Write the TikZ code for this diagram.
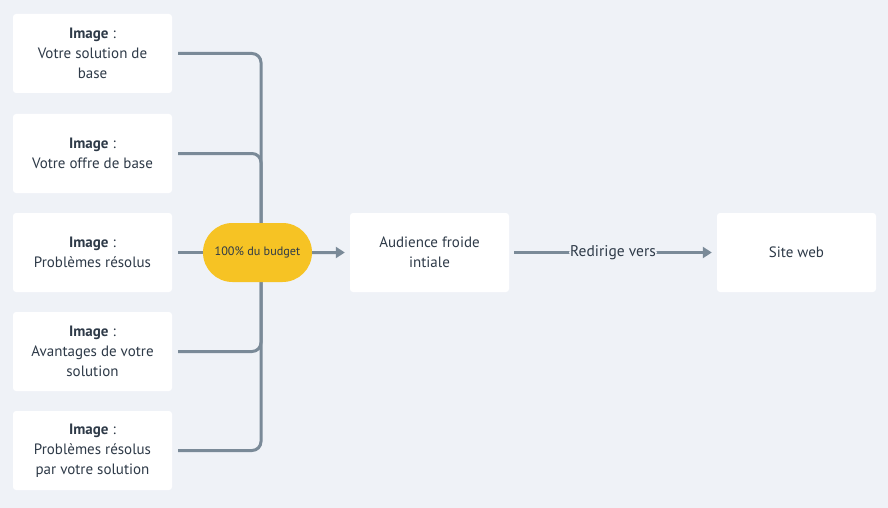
\documentclass[tikz,border=0pt]{standalone}
\usepackage{fontspec}
\setmainfont{PT Sans}
\usetikzlibrary{positioning,arrows.meta,shapes.misc}

\definecolor{bgcol}{HTML}{EFF2F7}
\definecolor{linecol}{HTML}{7A8A98}
\definecolor{txtcol}{HTML}{2E3A48}
\definecolor{pillcol}{HTML}{F6C324}

\tikzset{
  card/.style={rectangle, rounded corners=3pt, fill=white, text=txtcol,
    minimum width=159pt, minimum height=79pt, align=center,
    font=\fontsize{15}{20}\selectfont},
  pill/.style={rounded rectangle, fill=pillcol, text=txtcol,
    minimum width=113pt, minimum height=59pt, inner xsep=2pt,
    font=\fontsize{12.2}{14}\selectfont},
  cnx/.style={draw=linecol, line width=3pt, rounded corners=9pt},
  arr/.style={cnx, -{Triangle[length=9pt,width=11pt]}}
}

\begin{document}
\begin{tikzpicture}[x=1pt, y=-1pt]
  \fill[bgcol] (0,0) rectangle (888,508);
  \useasboundingbox (0,0) rectangle (888,508);

  % left column
  \node[card] (b1) at (92.5,53.5) {\textbf{Image} :\\Votre solution de\\base};
  \node[card] (b2) at (92.5,153.5) {\textbf{Image} :\\Votre offre de base};
  \node[card] (b3) at (92.5,252.5) {\textbf{Image} :\\Problèmes résolus};
  \node[card] (b4) at (92.5,351.5) {\textbf{Image} :\\Avantages de votre\\solution};
  \node[card] (b5) at (92.5,450.5) {\textbf{Image} :\\Problèmes résolus\\par votre solution};

  % right part
  \node[card] (aud) at (429.5,252.5) {Audience froide\\intiale};
  \node[card] (web) at (796.5,252.5) {Site web};
  \coordinate (bus) at (261,252.5);

  \path[cnx, shorten <=6pt]
    (b1.east) edge [to path={-| (\tikztotarget)}] (bus)
    (b2.east) edge [to path={-| (\tikztotarget)}] (bus)
    (b4.east) edge [to path={-| (\tikztotarget)}] (bus)
    (b5.east) edge [to path={-| (\tikztotarget)}] (bus)
    (b3.east) edge (bus);

  \node[pill] (budget) at (257.5,252.5) {100\% du budget};

  \draw[arr, shorten >=5pt] (budget) -- (aud);
  \draw[arr, shorten <=5pt, shorten >=5pt] (aud) -- (web)
    node[midway, fill=bgcol, text=txtcol, inner sep=1pt,
      font=\fontsize{15.5}{18}\selectfont] (redir) {Redirige vers};
\end{tikzpicture}
\end{document}
